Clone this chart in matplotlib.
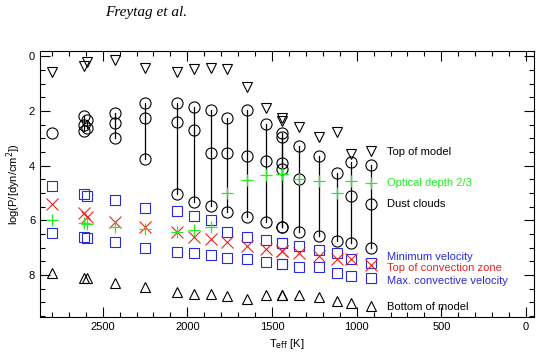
import numpy as np
import matplotlib.pyplot as plt
from matplotlib.ticker import MultipleLocator

# Model effective temperatures [K]
teff = [2800, 2610, 2595, 2430, 2250, 2060, 1960, 1860, 1765, 1650,
        1535, 1440, 1440, 1340, 1225, 1115, 1035]

# log P values of the different layers
top_model = [0.56, 0.35, 0.19, 0.13, 0.41, 0.58, 0.47, 0.41, 0.47, 1.13,
             1.90, 2.24, 2.36, 2.60, 2.96, 2.78, 3.58]
dust_clouds = [[2.81], [2.18, 2.51, 2.72], [2.33, 2.63], [2.08, 2.42, 2.99],
               [1.69, 2.25, 3.77], [1.71, 2.41, 5.04], [1.86, 2.69, 5.32],
               [1.96, 3.52, 5.48], [2.26, 3.55, 5.68], [1.96, 3.64, 5.87],
               [2.47, 3.82, 6.07], [2.81, 3.91, 6.26], [2.94, 4.13, 6.26],
               [3.28, 4.50, 6.42], [3.63, 6.58], [4.28, 6.75], [3.85, 5.11, 6.82]]
tau23 = [5.99, 6.11, 6.13, 6.26, 6.33, 6.42, 6.36, 6.23, 5.01, 4.52,
         4.34, 4.30, 4.30, 4.50, 4.55, 5.01, 4.55]
conv_top = [5.41, 5.74, 5.87, 6.05, 6.23, 6.42, 6.60, 6.69, 6.78, 6.93,
            7.05, 7.12, 7.12, 7.21, 7.31, 7.43, 7.43]
v_min = [4.73, 5.04, 5.11, 5.26, 5.54, 5.67, 5.84, 5.99, 6.42, 6.60,
         6.72, 6.84, 6.84, 6.94, 7.09, 7.21, 7.43]
v_max = [6.48, 6.60, 6.66, 6.78, 7.00, 7.15, 7.19, 7.27, 7.36, 7.42,
         7.53, 7.61, 7.61, 7.70, 7.72, 7.94, 8.04]
bottom_model = [7.92, 8.12, 8.12, 8.31, 8.45, 8.62, 8.70, 8.70, 8.77, 8.86,
                8.74, 8.74, 8.74, 8.74, 8.80, 8.94, 9.04]

# legend entries (drawn inside the plot like the IDL original)
legend_labels = ["Top of model", "Optical depth 2/3", "Dust clouds",
                 "Minimum velocity", "Top of convection zone",
                 "Max. convective velocity", "Bottom of model"]

GREEN = '#22ee22'
RED = '#ee2222'
BLUE = '#2a2ad8'

plt.rcParams['font.family'] = ['Liberation Sans', 'DejaVu Sans']

fig = plt.figure(figsize=(5.41, 3.56), dpi=100)
ax = fig.add_axes([0.074, 0.110, 0.913, 0.747])

mk = dict(linestyle='none', markerfacecolor='none')

# dust cloud ranges
for t, d in zip(teff, dust_clouds):
    if len(d) > 1:
        ax.plot([t, t], [min(d), max(d)], color='k', lw=0.9)
    ax.plot([t] * len(d), d, marker='o', ms=8, mec='k', mew=0.8, **mk)

ax.plot(teff, top_model, marker='v', ms=7, mec='k', mew=0.8, **mk)
ax.plot(teff, bottom_model, marker='^', ms=7, mec='k', mew=0.8, **mk)
ax.plot(teff, v_min, marker='s', ms=7.5, mec=BLUE, mew=0.8, **mk)
ax.plot(teff, v_max, marker='s', ms=7.5, mec=BLUE, mew=0.8, **mk)
ax.plot(teff, conv_top, marker='x', ms=8, mec=RED, mew=0.8, **mk)
ax.plot(teff, tau23, marker='+', ms=9, mec=GREEN, mew=0.9, **mk)

# hand-made legend
lx, tx = 917, 822
ax.plot(lx, 3.46, marker='v', ms=7, mec='k', mew=0.8, **mk)
ax.plot([lx, lx], [3.97, 7.01], color='k', lw=0.9)
ax.plot([lx] * 3, [3.97, 5.40, 7.01], marker='o', ms=8, mec='k', mew=0.8, **mk)
ax.plot(lx, 4.63, marker='+', ms=9, mec=GREEN, mew=0.9, **mk)
ax.plot(lx, 7.57, marker='s', ms=7.5, mec=BLUE, mew=0.8, **mk)
ax.plot(lx, 7.64, marker='x', ms=8, mec=RED, mew=0.8, **mk)
ax.plot(lx, 8.11, marker='s', ms=7.5, mec=BLUE, mew=0.8, **mk)
ax.plot(lx, 9.14, marker='^', ms=7, mec='k', mew=0.8, **mk)

label_y = [3.50, 4.63, 5.40, 7.35, 7.75, 8.22, 9.17]
label_c = ['k', GREEN, 'k', BLUE, RED, BLUE, 'k']
for lab, y, c in zip(legend_labels, label_y, label_c):
    ax.text(tx, y, lab, color=c, fontsize=8, ha='left', va='center')

ax.set_xlim(2870, -47)
ax.set_ylim(9.53, -0.2)
ax.xaxis.set_major_locator(MultipleLocator(500))
ax.xaxis.set_minor_locator(MultipleLocator(100))
ax.yaxis.set_major_locator(MultipleLocator(2))
ax.yaxis.set_minor_locator(MultipleLocator(0.5))
ax.tick_params(which='both', direction='in', top=True, right=True,
               width=0.8, labelsize=8)
ax.tick_params(which='major', length=7)
ax.tick_params(which='minor', length=3.5)
for s in ax.spines.values():
    s.set_linewidth(0.8)

ax.set_xlabel(r'T$_{\rm eff}$ [K]', fontsize=8, labelpad=4)
ax.set_ylabel(r'log(P/[dyn/cm$^2$])', fontsize=8, labelpad=4)

fig.text(0.27, 0.965, 'Freytag et al.', fontsize=11, style='italic',
         family=['Liberation Serif', 'DejaVu Serif'], ha='center', va='center')

fig.savefig('out.png', dpi=100)
